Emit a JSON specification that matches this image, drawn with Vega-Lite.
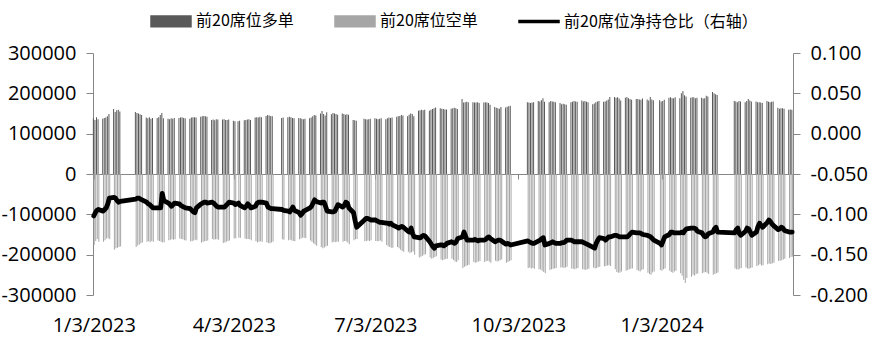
{
"$schema": "https://vega.github.io/schema/vega-lite/v6.json",
"width": 700,
"height": 242,
"autosize": {"type": "none"},
"padding": {"left": 93, "top": 53, "right": 79, "bottom": 42},
"config": {
  "view": {"stroke": null},
  "axis": {"labelFont": "Open Sans", "labelFontSize": 20, "labelColor": "#000000", "domainColor": "#868686", "tickColor": "#868686", "grid": false, "title": null}
},
"data": {"values": [
{"date":"2023-01-03","long":138000,"short":-176000,"ratio":-0.102},
{"date":"2023-01-04","long":134000,"short":-166000,"ratio":-0.098},
{"date":"2023-01-05","long":141000,"short":-161000,"ratio":-0.095},
{"date":"2023-01-06","long":136000,"short":-168000,"ratio":-0.094},
{"date":"2023-01-09","long":137000,"short":-168000,"ratio":-0.096},
{"date":"2023-01-10","long":139000,"short":-164000,"ratio":-0.094},
{"date":"2023-01-11","long":140000,"short":-160000,"ratio":-0.092},
{"date":"2023-01-12","long":143000,"short":-159000,"ratio":-0.087},
{"date":"2023-01-13","long":149000,"short":-162000,"ratio":-0.080},
{"date":"2023-01-16","long":161000,"short":-188000,"ratio":-0.079},
{"date":"2023-01-17","long":154000,"short":-184000,"ratio":-0.080},
{"date":"2023-01-18","long":158000,"short":-183000,"ratio":-0.083},
{"date":"2023-01-19","long":159000,"short":-181000,"ratio":-0.085},
{"date":"2023-01-20","long":155000,"short":-180000,"ratio":-0.084},
{"date":"2023-01-30","long":154000,"short":-181000,"ratio":-0.081},
{"date":"2023-01-31","long":151000,"short":-177000,"ratio":-0.080},
{"date":"2023-02-01","long":150000,"short":-175000,"ratio":-0.080},
{"date":"2023-02-02","long":148000,"short":-172000,"ratio":-0.081},
{"date":"2023-02-03","long":146000,"short":-170000,"ratio":-0.082},
{"date":"2023-02-06","long":140000,"short":-168000,"ratio":-0.085},
{"date":"2023-02-07","long":138000,"short":-167000,"ratio":-0.087},
{"date":"2023-02-08","long":141000,"short":-169000,"ratio":-0.088},
{"date":"2023-02-09","long":137000,"short":-166000,"ratio":-0.090},
{"date":"2023-02-10","long":139000,"short":-168000,"ratio":-0.092},
{"date":"2023-02-13","long":139000,"short":-165000,"ratio":-0.092},
{"date":"2023-02-14","long":141000,"short":-166000,"ratio":-0.092},
{"date":"2023-02-15","long":146000,"short":-168000,"ratio":-0.092},
{"date":"2023-02-16","long":151000,"short":-170000,"ratio":-0.074},
{"date":"2023-02-17","long":138000,"short":-169000,"ratio":-0.083},
{"date":"2023-02-20","long":137000,"short":-164000,"ratio":-0.086},
{"date":"2023-02-21","long":136000,"short":-163000,"ratio":-0.088},
{"date":"2023-02-22","long":138000,"short":-162000,"ratio":-0.090},
{"date":"2023-02-23","long":137000,"short":-163000,"ratio":-0.088},
{"date":"2023-02-24","long":139000,"short":-162000,"ratio":-0.086},
{"date":"2023-02-27","long":139000,"short":-160000,"ratio":-0.087},
{"date":"2023-02-28","long":140000,"short":-161000,"ratio":-0.089},
{"date":"2023-03-01","long":141000,"short":-162000,"ratio":-0.090},
{"date":"2023-03-02","long":139000,"short":-164000,"ratio":-0.091},
{"date":"2023-03-03","long":138000,"short":-165000,"ratio":-0.092},
{"date":"2023-03-06","long":137000,"short":-167000,"ratio":-0.093},
{"date":"2023-03-07","long":140000,"short":-167000,"ratio":-0.095},
{"date":"2023-03-08","long":141000,"short":-165000,"ratio":-0.097},
{"date":"2023-03-09","long":141000,"short":-163000,"ratio":-0.098},
{"date":"2023-03-10","long":140000,"short":-164000,"ratio":-0.092},
{"date":"2023-03-13","long":142000,"short":-170000,"ratio":-0.087},
{"date":"2023-03-14","long":143000,"short":-168000,"ratio":-0.086},
{"date":"2023-03-15","long":144000,"short":-167000,"ratio":-0.085},
{"date":"2023-03-16","long":143000,"short":-166000,"ratio":-0.085},
{"date":"2023-03-17","long":142000,"short":-165000,"ratio":-0.086},
{"date":"2023-03-20","long":134000,"short":-161000,"ratio":-0.085},
{"date":"2023-03-21","long":135000,"short":-163000,"ratio":-0.086},
{"date":"2023-03-22","long":133000,"short":-162000,"ratio":-0.088},
{"date":"2023-03-23","long":136000,"short":-162000,"ratio":-0.090},
{"date":"2023-03-24","long":135000,"short":-163000,"ratio":-0.091},
{"date":"2023-03-27","long":135000,"short":-171000,"ratio":-0.091},
{"date":"2023-03-28","long":136000,"short":-170000,"ratio":-0.091},
{"date":"2023-03-29","long":134000,"short":-168000,"ratio":-0.089},
{"date":"2023-03-30","long":134000,"short":-166000,"ratio":-0.087},
{"date":"2023-03-31","long":135000,"short":-165000,"ratio":-0.085},
{"date":"2023-04-03","long":132000,"short":-160000,"ratio":-0.086},
{"date":"2023-04-04","long":131000,"short":-159000,"ratio":-0.088},
{"date":"2023-04-06","long":131000,"short":-158000,"ratio":-0.086},
{"date":"2023-04-07","long":132000,"short":-158000,"ratio":-0.089},
{"date":"2023-04-10","long":133000,"short":-160000,"ratio":-0.092},
{"date":"2023-04-11","long":134000,"short":-161000,"ratio":-0.090},
{"date":"2023-04-12","long":135000,"short":-161000,"ratio":-0.087},
{"date":"2023-04-13","long":136000,"short":-162000,"ratio":-0.089},
{"date":"2023-04-14","long":134000,"short":-164000,"ratio":-0.092},
{"date":"2023-04-17","long":140000,"short":-167000,"ratio":-0.090},
{"date":"2023-04-18","long":141000,"short":-169000,"ratio":-0.086},
{"date":"2023-04-19","long":140000,"short":-168000,"ratio":-0.085},
{"date":"2023-04-20","long":142000,"short":-167000,"ratio":-0.085},
{"date":"2023-04-21","long":141000,"short":-168000,"ratio":-0.085},
{"date":"2023-04-24","long":144000,"short":-169000,"ratio":-0.086},
{"date":"2023-04-25","long":146000,"short":-171000,"ratio":-0.091},
{"date":"2023-04-26","long":145000,"short":-172000,"ratio":-0.092},
{"date":"2023-04-27","long":144000,"short":-170000,"ratio":-0.093},
{"date":"2023-04-28","long":143000,"short":-168000,"ratio":-0.093},
{"date":"2023-05-04","long":139000,"short":-162000,"ratio":-0.094},
{"date":"2023-05-05","long":140000,"short":-163000,"ratio":-0.095},
{"date":"2023-05-08","long":141000,"short":-164000,"ratio":-0.096},
{"date":"2023-05-09","long":142000,"short":-163000,"ratio":-0.097},
{"date":"2023-05-10","long":141000,"short":-165000,"ratio":-0.094},
{"date":"2023-05-11","long":139000,"short":-166000,"ratio":-0.091},
{"date":"2023-05-12","long":138000,"short":-167000,"ratio":-0.095},
{"date":"2023-05-15","long":139000,"short":-162000,"ratio":-0.098},
{"date":"2023-05-16","long":138000,"short":-160000,"ratio":-0.101},
{"date":"2023-05-17","long":137000,"short":-158000,"ratio":-0.099},
{"date":"2023-05-18","long":136000,"short":-158000,"ratio":-0.096},
{"date":"2023-05-19","long":137000,"short":-159000,"ratio":-0.095},
{"date":"2023-05-22","long":138000,"short":-165000,"ratio":-0.092},
{"date":"2023-05-23","long":140000,"short":-168000,"ratio":-0.090},
{"date":"2023-05-24","long":143000,"short":-172000,"ratio":-0.086},
{"date":"2023-05-25","long":146000,"short":-175000,"ratio":-0.082},
{"date":"2023-05-26","long":145000,"short":-178000,"ratio":-0.084},
{"date":"2023-05-29","long":150000,"short":-181000,"ratio":-0.086},
{"date":"2023-05-30","long":156000,"short":-184000,"ratio":-0.085},
{"date":"2023-05-31","long":149000,"short":-182000,"ratio":-0.085},
{"date":"2023-06-01","long":145000,"short":-180000,"ratio":-0.090},
{"date":"2023-06-02","long":153000,"short":-178000,"ratio":-0.096},
{"date":"2023-06-05","long":148000,"short":-170000,"ratio":-0.097},
{"date":"2023-06-06","long":151000,"short":-168000,"ratio":-0.097},
{"date":"2023-06-07","long":150000,"short":-169000,"ratio":-0.096},
{"date":"2023-06-08","long":149000,"short":-168000,"ratio":-0.092},
{"date":"2023-06-09","long":147000,"short":-168000,"ratio":-0.088},
{"date":"2023-06-12","long":150000,"short":-168000,"ratio":-0.091},
{"date":"2023-06-13","long":149000,"short":-166000,"ratio":-0.089},
{"date":"2023-06-14","long":147000,"short":-167000,"ratio":-0.085},
{"date":"2023-06-15","long":148000,"short":-170000,"ratio":-0.086},
{"date":"2023-06-16","long":147000,"short":-174000,"ratio":-0.092},
{"date":"2023-06-19","long":134000,"short":-164000,"ratio":-0.098},
{"date":"2023-06-20","long":133000,"short":-162000,"ratio":-0.108},
{"date":"2023-06-21","long":132000,"short":-161000,"ratio":-0.116},
{"date":"2023-06-26","long":137000,"short":-167000,"ratio":-0.107},
{"date":"2023-06-27","long":136000,"short":-166000,"ratio":-0.105},
{"date":"2023-06-28","long":135000,"short":-165000,"ratio":-0.105},
{"date":"2023-06-29","long":136000,"short":-166000,"ratio":-0.106},
{"date":"2023-06-30","long":137000,"short":-164000,"ratio":-0.107},
{"date":"2023-07-03","long":138000,"short":-166000,"ratio":-0.107},
{"date":"2023-07-04","long":137000,"short":-167000,"ratio":-0.108},
{"date":"2023-07-05","long":136000,"short":-166000,"ratio":-0.109},
{"date":"2023-07-06","long":137000,"short":-165000,"ratio":-0.110},
{"date":"2023-07-07","long":138000,"short":-168000,"ratio":-0.110},
{"date":"2023-07-10","long":136000,"short":-176000,"ratio":-0.111},
{"date":"2023-07-11","long":138000,"short":-179000,"ratio":-0.111},
{"date":"2023-07-12","long":140000,"short":-181000,"ratio":-0.112},
{"date":"2023-07-13","long":139000,"short":-183000,"ratio":-0.111},
{"date":"2023-07-14","long":140000,"short":-183000,"ratio":-0.113},
{"date":"2023-07-17","long":142000,"short":-181000,"ratio":-0.116},
{"date":"2023-07-18","long":143000,"short":-184000,"ratio":-0.117},
{"date":"2023-07-19","long":144000,"short":-188000,"ratio":-0.116},
{"date":"2023-07-20","long":146000,"short":-191000,"ratio":-0.115},
{"date":"2023-07-21","long":145000,"short":-193000,"ratio":-0.116},
{"date":"2023-07-24","long":143000,"short":-193000,"ratio":-0.121},
{"date":"2023-07-25","long":147000,"short":-196000,"ratio":-0.122},
{"date":"2023-07-26","long":150000,"short":-194000,"ratio":-0.117},
{"date":"2023-07-27","long":149000,"short":-192000,"ratio":-0.124},
{"date":"2023-07-28","long":143000,"short":-200000,"ratio":-0.128},
{"date":"2023-07-31","long":157000,"short":-207000,"ratio":-0.129},
{"date":"2023-08-01","long":158000,"short":-205000,"ratio":-0.129},
{"date":"2023-08-02","long":159000,"short":-203000,"ratio":-0.127},
{"date":"2023-08-03","long":158000,"short":-200000,"ratio":-0.126},
{"date":"2023-08-04","long":159000,"short":-199000,"ratio":-0.127},
{"date":"2023-08-07","long":157000,"short":-207000,"ratio":-0.134},
{"date":"2023-08-08","long":159000,"short":-210000,"ratio":-0.137},
{"date":"2023-08-09","long":161000,"short":-208000,"ratio":-0.140},
{"date":"2023-08-10","long":163000,"short":-206000,"ratio":-0.142},
{"date":"2023-08-11","long":165000,"short":-204000,"ratio":-0.139},
{"date":"2023-08-14","long":163000,"short":-212000,"ratio":-0.138},
{"date":"2023-08-15","long":162000,"short":-214000,"ratio":-0.138},
{"date":"2023-08-16","long":161000,"short":-212000,"ratio":-0.139},
{"date":"2023-08-17","long":160000,"short":-211000,"ratio":-0.138},
{"date":"2023-08-18","long":160000,"short":-210000,"ratio":-0.136},
{"date":"2023-08-21","long":162000,"short":-210000,"ratio":-0.134},
{"date":"2023-08-22","long":163000,"short":-213000,"ratio":-0.135},
{"date":"2023-08-23","long":164000,"short":-217000,"ratio":-0.136},
{"date":"2023-08-24","long":163000,"short":-218000,"ratio":-0.134},
{"date":"2023-08-25","long":161000,"short":-214000,"ratio":-0.130},
{"date":"2023-08-28","long":186000,"short":-233000,"ratio":-0.128},
{"date":"2023-08-29","long":177000,"short":-230000,"ratio":-0.122},
{"date":"2023-08-30","long":178000,"short":-228000,"ratio":-0.127},
{"date":"2023-08-31","long":179000,"short":-226000,"ratio":-0.132},
{"date":"2023-09-01","long":178000,"short":-225000,"ratio":-0.132},
{"date":"2023-09-04","long":178000,"short":-218000,"ratio":-0.132},
{"date":"2023-09-05","long":177000,"short":-220000,"ratio":-0.131},
{"date":"2023-09-06","long":177000,"short":-219000,"ratio":-0.132},
{"date":"2023-09-07","long":178000,"short":-217000,"ratio":-0.133},
{"date":"2023-09-08","long":176000,"short":-216000,"ratio":-0.132},
{"date":"2023-09-11","long":177000,"short":-218000,"ratio":-0.132},
{"date":"2023-09-12","long":178000,"short":-216000,"ratio":-0.131},
{"date":"2023-09-13","long":177000,"short":-215000,"ratio":-0.129},
{"date":"2023-09-14","long":176000,"short":-217000,"ratio":-0.128},
{"date":"2023-09-15","long":172000,"short":-220000,"ratio":-0.130},
{"date":"2023-09-18","long":166000,"short":-215000,"ratio":-0.134},
{"date":"2023-09-19","long":164000,"short":-217000,"ratio":-0.133},
{"date":"2023-09-20","long":163000,"short":-216000,"ratio":-0.132},
{"date":"2023-09-21","long":162000,"short":-214000,"ratio":-0.132},
{"date":"2023-09-22","long":166000,"short":-212000,"ratio":-0.133},
{"date":"2023-09-25","long":165000,"short":-220000,"ratio":-0.137},
{"date":"2023-09-26","long":167000,"short":-218000,"ratio":-0.136},
{"date":"2023-09-27","long":168000,"short":-216000,"ratio":-0.137},
{"date":"2023-09-28","long":169000,"short":-214000,"ratio":-0.138},
{"date":"2023-10-09","long":178000,"short":-233000,"ratio":-0.133},
{"date":"2023-10-10","long":177000,"short":-232000,"ratio":-0.134},
{"date":"2023-10-11","long":176000,"short":-234000,"ratio":-0.135},
{"date":"2023-10-12","long":177000,"short":-233000,"ratio":-0.136},
{"date":"2023-10-13","long":178000,"short":-235000,"ratio":-0.136},
{"date":"2023-10-16","long":181000,"short":-236000,"ratio":-0.133},
{"date":"2023-10-17","long":180000,"short":-237000,"ratio":-0.132},
{"date":"2023-10-18","long":183000,"short":-240000,"ratio":-0.130},
{"date":"2023-10-19","long":188000,"short":-243000,"ratio":-0.129},
{"date":"2023-10-20","long":179000,"short":-246000,"ratio":-0.138},
{"date":"2023-10-23","long":178000,"short":-238000,"ratio":-0.136},
{"date":"2023-10-24","long":181000,"short":-236000,"ratio":-0.135},
{"date":"2023-10-25","long":180000,"short":-235000,"ratio":-0.134},
{"date":"2023-10-26","long":179000,"short":-234000,"ratio":-0.135},
{"date":"2023-10-27","long":178000,"short":-233000,"ratio":-0.136},
{"date":"2023-10-30","long":176000,"short":-232000,"ratio":-0.136},
{"date":"2023-10-31","long":173000,"short":-231000,"ratio":-0.135},
{"date":"2023-11-01","long":174000,"short":-233000,"ratio":-0.135},
{"date":"2023-11-02","long":173000,"short":-232000,"ratio":-0.134},
{"date":"2023-11-03","long":172000,"short":-230000,"ratio":-0.132},
{"date":"2023-11-06","long":178000,"short":-234000,"ratio":-0.132},
{"date":"2023-11-07","long":179000,"short":-235000,"ratio":-0.133},
{"date":"2023-11-08","long":181000,"short":-236000,"ratio":-0.134},
{"date":"2023-11-09","long":180000,"short":-234000,"ratio":-0.134},
{"date":"2023-11-10","long":179000,"short":-233000,"ratio":-0.134},
{"date":"2023-11-13","long":182000,"short":-236000,"ratio":-0.134},
{"date":"2023-11-14","long":180000,"short":-237000,"ratio":-0.135},
{"date":"2023-11-15","long":181000,"short":-238000,"ratio":-0.136},
{"date":"2023-11-16","long":179000,"short":-236000,"ratio":-0.137},
{"date":"2023-11-17","long":178000,"short":-235000,"ratio":-0.138},
{"date":"2023-11-20","long":173000,"short":-232000,"ratio":-0.141},
{"date":"2023-11-21","long":175000,"short":-234000,"ratio":-0.142},
{"date":"2023-11-22","long":178000,"short":-233000,"ratio":-0.136},
{"date":"2023-11-23","long":180000,"short":-231000,"ratio":-0.132},
{"date":"2023-11-24","long":181000,"short":-230000,"ratio":-0.129},
{"date":"2023-11-27","long":179000,"short":-229000,"ratio":-0.130},
{"date":"2023-11-28","long":180000,"short":-228000,"ratio":-0.132},
{"date":"2023-11-29","long":182000,"short":-227000,"ratio":-0.130},
{"date":"2023-11-30","long":185000,"short":-226000,"ratio":-0.128},
{"date":"2023-12-01","long":191000,"short":-228000,"ratio":-0.128},
{"date":"2023-12-04","long":191000,"short":-236000,"ratio":-0.126},
{"date":"2023-12-05","long":189000,"short":-243000,"ratio":-0.126},
{"date":"2023-12-06","long":190000,"short":-245000,"ratio":-0.127},
{"date":"2023-12-07","long":187000,"short":-244000,"ratio":-0.128},
{"date":"2023-12-08","long":182000,"short":-242000,"ratio":-0.128},
{"date":"2023-12-11","long":189000,"short":-240000,"ratio":-0.128},
{"date":"2023-12-12","long":191000,"short":-238000,"ratio":-0.128},
{"date":"2023-12-13","long":188000,"short":-236000,"ratio":-0.126},
{"date":"2023-12-14","long":186000,"short":-235000,"ratio":-0.124},
{"date":"2023-12-15","long":184000,"short":-234000,"ratio":-0.122},
{"date":"2023-12-18","long":186000,"short":-238000,"ratio":-0.123},
{"date":"2023-12-19","long":186000,"short":-240000,"ratio":-0.123},
{"date":"2023-12-20","long":185000,"short":-242000,"ratio":-0.123},
{"date":"2023-12-21","long":184000,"short":-238000,"ratio":-0.124},
{"date":"2023-12-22","long":187000,"short":-236000,"ratio":-0.125},
{"date":"2023-12-25","long":185000,"short":-245000,"ratio":-0.126},
{"date":"2023-12-26","long":182000,"short":-248000,"ratio":-0.127},
{"date":"2023-12-27","long":191000,"short":-250000,"ratio":-0.128},
{"date":"2023-12-28","long":185000,"short":-244000,"ratio":-0.130},
{"date":"2023-12-29","long":183000,"short":-242000,"ratio":-0.132},
{"date":"2024-01-02","long":183000,"short":-238000,"ratio":-0.136},
{"date":"2024-01-03","long":180000,"short":-240000,"ratio":-0.138},
{"date":"2024-01-04","long":181000,"short":-236000,"ratio":-0.133},
{"date":"2024-01-05","long":184000,"short":-234000,"ratio":-0.128},
{"date":"2024-01-08","long":189000,"short":-240000,"ratio":-0.125},
{"date":"2024-01-09","long":190000,"short":-243000,"ratio":-0.122},
{"date":"2024-01-10","long":188000,"short":-245000,"ratio":-0.122},
{"date":"2024-01-11","long":188000,"short":-242000,"ratio":-0.123},
{"date":"2024-01-12","long":190000,"short":-240000,"ratio":-0.123},
{"date":"2024-01-15","long":188000,"short":-246000,"ratio":-0.123},
{"date":"2024-01-16","long":200000,"short":-252000,"ratio":-0.122},
{"date":"2024-01-17","long":206000,"short":-262000,"ratio":-0.123},
{"date":"2024-01-18","long":195000,"short":-270000,"ratio":-0.120},
{"date":"2024-01-19","long":192000,"short":-258000,"ratio":-0.118},
{"date":"2024-01-22","long":189000,"short":-255000,"ratio":-0.117},
{"date":"2024-01-23","long":190000,"short":-250000,"ratio":-0.117},
{"date":"2024-01-24","long":190000,"short":-252000,"ratio":-0.117},
{"date":"2024-01-25","long":188000,"short":-248000,"ratio":-0.118},
{"date":"2024-01-26","long":189000,"short":-247000,"ratio":-0.121},
{"date":"2024-01-29","long":189000,"short":-246000,"ratio":-0.123},
{"date":"2024-01-30","long":187000,"short":-244000,"ratio":-0.126},
{"date":"2024-01-31","long":188000,"short":-243000,"ratio":-0.128},
{"date":"2024-02-01","long":194000,"short":-245000,"ratio":-0.127},
{"date":"2024-02-02","long":192000,"short":-248000,"ratio":-0.124},
{"date":"2024-02-05","long":203000,"short":-250000,"ratio":-0.122},
{"date":"2024-02-06","long":200000,"short":-248000,"ratio":-0.118},
{"date":"2024-02-07","long":198000,"short":-246000,"ratio":-0.116},
{"date":"2024-02-08","long":196000,"short":-244000,"ratio":-0.122},
{"date":"2024-02-19","long":181000,"short":-234000,"ratio":-0.123},
{"date":"2024-02-20","long":180000,"short":-236000,"ratio":-0.119},
{"date":"2024-02-21","long":178000,"short":-237000,"ratio":-0.117},
{"date":"2024-02-22","long":181000,"short":-235000,"ratio":-0.124},
{"date":"2024-02-23","long":180000,"short":-233000,"ratio":-0.126},
{"date":"2024-02-26","long":178000,"short":-232000,"ratio":-0.121},
{"date":"2024-02-27","long":181000,"short":-234000,"ratio":-0.117},
{"date":"2024-02-28","long":186000,"short":-235000,"ratio":-0.118},
{"date":"2024-02-29","long":182000,"short":-233000,"ratio":-0.122},
{"date":"2024-03-01","long":180000,"short":-232000,"ratio":-0.126},
{"date":"2024-03-04","long":180000,"short":-228000,"ratio":-0.122},
{"date":"2024-03-05","long":178000,"short":-226000,"ratio":-0.115},
{"date":"2024-03-06","long":178000,"short":-224000,"ratio":-0.111},
{"date":"2024-03-07","long":177000,"short":-227000,"ratio":-0.114},
{"date":"2024-03-08","long":176000,"short":-226000,"ratio":-0.116},
{"date":"2024-03-11","long":181000,"short":-224000,"ratio":-0.110},
{"date":"2024-03-12","long":179000,"short":-222000,"ratio":-0.107},
{"date":"2024-03-13","long":178000,"short":-223000,"ratio":-0.109},
{"date":"2024-03-14","long":179000,"short":-221000,"ratio":-0.112},
{"date":"2024-03-15","long":180000,"short":-220000,"ratio":-0.114},
{"date":"2024-03-18","long":164000,"short":-216000,"ratio":-0.119},
{"date":"2024-03-19","long":162000,"short":-215000,"ratio":-0.118},
{"date":"2024-03-20","long":163000,"short":-214000,"ratio":-0.116},
{"date":"2024-03-21","long":163000,"short":-212000,"ratio":-0.117},
{"date":"2024-03-22","long":162000,"short":-210000,"ratio":-0.120},
{"date":"2024-03-25","long":159000,"short":-208000,"ratio":-0.122},
{"date":"2024-03-26","long":160000,"short":-206000,"ratio":-0.122},
{"date":"2024-03-27","long":159000,"short":-205000,"ratio":-0.122}
]},
"encoding": {
  "x": {"field": "date", "type": "temporal",
    "scale": {"type": "utc", "nice": false, "padding": 0, "domain": [{"year": 2023, "month": 1, "date": 2, "hours": 12, "utc": true}, {"year": 2024, "month": 3, "date": 27, "hours": 12, "utc": true}]}}
},
"layer": [
  {
    "layer": [
      {
        "mark": {"type": "bar", "size": 1, "xOffset": -0.4},
        "encoding": {
          "x": {"field": "date", "type": "temporal",
            "axis": {"orient": "bottom", "domain": false, "ticks": false, "labelPadding": 20, "labelBaseline": "top",
              "values": [{"year": 2023, "month": 1, "date": 3, "utc": true}, {"year": 2023, "month": 4, "date": 3, "utc": true}, {"year": 2023, "month": 7, "date": 3, "utc": true}, {"year": 2023, "month": 10, "date": 3, "utc": true}, {"year": 2024, "month": 1, "date": 3, "utc": true}],
              "labelExpr": "utcFormat(datum.value, '%-m/%-d/%Y')", "labelOverlap": false, "labelFlush": false}},
          "y": {"field": "long", "type": "quantitative",
            "scale": {"domain": [-300000, 300000], "nice": false, "zero": false},
            "axis": {"orient": "left", "values": [-300000, -200000, -100000, 0, 100000, 200000, 300000], "labelExpr": "'' + datum.value", "tickSize": 7, "labelPadding": 10}},
          "color": {"datum": "前20席位多单", "type": "nominal",
            "scale": {"domain": ["前20席位多单", "前20席位空单", "前20席位净持仓比（右轴）"], "range": ["#595959", "#a6a6a6", "#000000"]},
            "legend": {"orient": "none", "legendX": 57, "legendY": -53, "direction": "horizontal", "title": null,
              "labelFont": "Noto Sans CJK SC", "labelFontSize": 16, "labelColor": "#000000", "labelOffset": 4, "labelLimit": 400,
              "columnPadding": 38, "padding": 0, "symbolSize": 1600,
              "encode": {"symbols": {"update": {
                "shape": {"signal": "datum.value === '前20席位净持仓比（右轴）' ? 'M-1,-0.055H1V0.055H-1Z' : 'M-1,-0.27H1V0.27H-1Z'"},
                "fill": {"signal": "scale('color', datum.value)"},
                "fillOpacity": {"value": 1},
                "stroke": {"value": "transparent"},
                "size": {"value": 1600}}}}}}
        }
      },
      {
        "mark": {"type": "bar", "size": 1, "xOffset": 0.4},
        "encoding": {
          "x": {"field": "date", "type": "temporal",
            "axis": {"orient": "bottom", "offset": -121, "labels": false, "domain": true, "ticks": true, "tickSize": 5,
              "values": [{"year": 2023, "month": 1, "date": 3, "utc": true}, {"year": 2023, "month": 4, "date": 3, "utc": true}, {"year": 2023, "month": 7, "date": 3, "utc": true}, {"year": 2023, "month": 10, "date": 3, "utc": true}, {"year": 2024, "month": 1, "date": 3, "utc": true}]}},
          "y": {"field": "short", "type": "quantitative"},
          "color": {"datum": "前20席位空单", "type": "nominal"}
        }
      }
    ],
    "resolve": {"axis": {"x": "independent"}}
  },
  {
    "mark": {"type": "line", "strokeWidth": 4.8, "strokeJoin": "round", "strokeCap": "round"},
    "encoding": {
      "x": {"field": "date", "type": "temporal", "axis": null},
      "y": {"field": "ratio", "type": "quantitative",
        "scale": {"domain": [-0.2, 0.1], "nice": false, "zero": false},
        "axis": {"orient": "right", "values": [-0.2, -0.15, -0.1, -0.05, 0, 0.05, 0.1], "labelExpr": "replace(format(datum.value, '.3f'), '−', '-')", "tickSize": 7, "labelPadding": 10}},
      "color": {"datum": "前20席位净持仓比（右轴）", "type": "nominal"}
    }
  }
],
"resolve": {"scale": {"y": "independent"}, "axis": {"x": "independent"}}
}
